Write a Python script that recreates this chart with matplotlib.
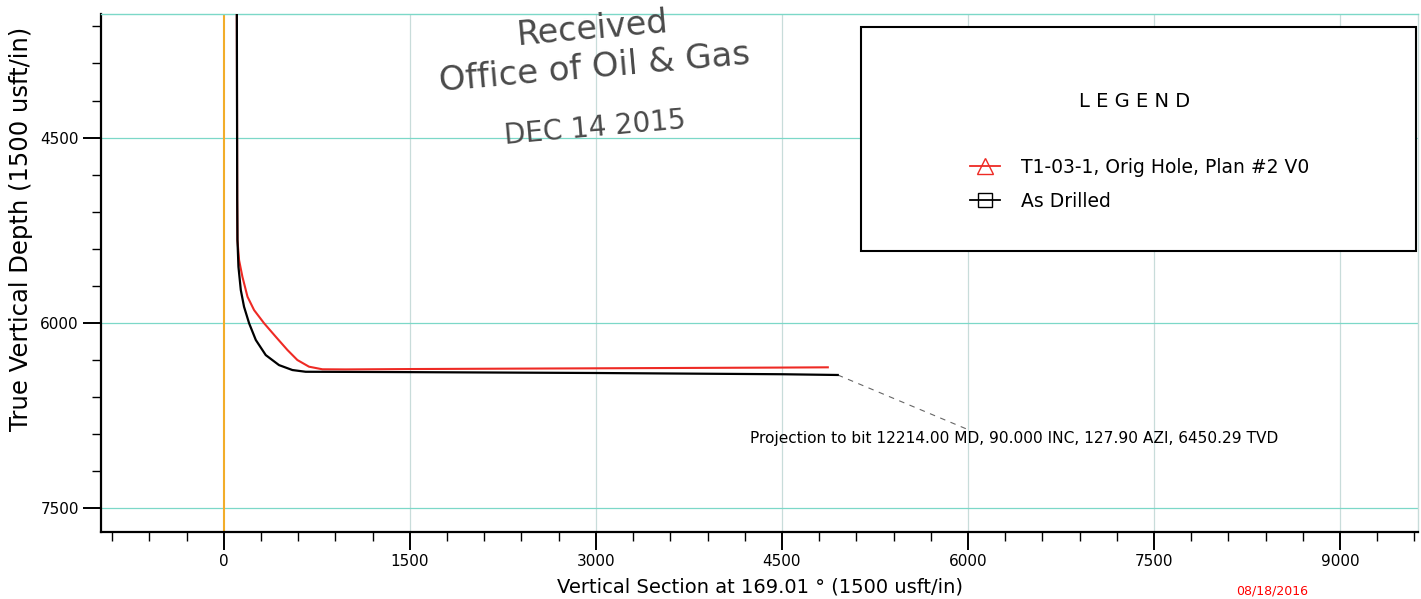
import matplotlib
matplotlib.use("Agg")
import matplotlib.pyplot as plt
from matplotlib.patches import Rectangle
from matplotlib.lines import Line2D
from matplotlib.ticker import MultipleLocator

# plan well (red)
plan_vs = [105, 108, 110, 123, 150, 191, 244, 325, 419, 513, 593, 687, 795, 982,
           1500, 3000, 4500, 4870]
plan_tvd = [3500, 5000, 5330, 5491, 5626, 5787, 5895, 6002, 6111, 6218, 6299, 6353,
            6374, 6375, 6372, 6366, 6360, 6358]

# as drilled (black)
drill_vs = [105, 108, 110, 118, 137, 163, 204, 258, 338, 445, 553, 660, 982,
            1500, 3000, 4500, 4950]
drill_tvd = [3500, 5000, 5329, 5545, 5733, 5868, 6002, 6137, 6259, 6340, 6380, 6394,
             6395, 6397, 6404, 6414, 6420]

# projection to bit
proj_vs = [4950, 6020]
proj_tvd = [6420, 6870]
proj_text = "Projection to bit 12214.00 MD, 90.000 INC, 127.90 AZI, 6450.29 TVD"

x_major = [0, 1500, 3000, 4500, 6000, 7500, 9000]
y_major = [4500, 6000, 7500]

fig = plt.figure(figsize=(14.21, 5.99), dpi=100)
ax = fig.add_axes([0.0711, 0.1119, 0.9269, 0.8647])

ax.set_xlim(-990, 9630)
ax.set_ylim(7690, 3500)

ax.set_xticks(x_major)
ax.set_yticks(y_major)
ax.xaxis.set_minor_locator(MultipleLocator(300))
ax.yaxis.set_minor_locator(MultipleLocator(300))
ax.tick_params(which="major", length=13, width=1.4, labelsize=11, pad=3)
ax.tick_params(which="minor", length=6.5, width=1.0)

for v in x_major[1:]:
    ax.axvline(v, color="#c8dcda", lw=0.9, zorder=0)
for v in y_major:
    ax.axhline(v, color="#7cd8c8", lw=0.9, zorder=0)

ax.spines["left"].set_linewidth(1.6)
ax.spines["bottom"].set_linewidth(1.6)
ax.spines["top"].set_color("#7cd8c8")
ax.spines["top"].set_linewidth(1.0)
ax.spines["right"].set_color("#c8dcda")
ax.spines["right"].set_linewidth(1.0)

ax.axvline(0, color="#f2ad2a", lw=1.5, zorder=1)

ax.plot(plan_vs, plan_tvd, color="#ee2a24", lw=1.5, zorder=3)
ax.plot(drill_vs, drill_tvd, color="black", lw=1.6, zorder=4)
ax.plot(proj_vs, proj_tvd, color="#666666", lw=0.8, ls=(0, (5, 5)), zorder=2)
ax.text(4243, 6930, proj_text, fontsize=11.1, va="center", ha="left")

ax.set_xlabel("Vertical Section at 169.01 ° (1500 usft/in)", fontsize=14, labelpad=6)
ax.set_ylabel("True Vertical Depth (1500 usft/in)", fontsize=17.5)
ax.yaxis.set_label_coords(-0.052, 0.585)

# legend box
ax.add_patch(Rectangle((0.577, 0.5425), 0.4215, 0.4325, transform=ax.transAxes,
                       facecolor="white", edgecolor="black", lw=1.5, zorder=5))
ax.text(0.785, 0.832, "L E G E N D", transform=ax.transAxes, fontsize=14,
        ha="center", va="center", zorder=6)
handles = [
    Line2D([], [], color="#ee2a24", lw=1.3, marker="^", markersize=11,
           markerfacecolor="none", markeredgecolor="#ee2a24"),
    Line2D([], [], color="black", lw=1.3, marker="s", markersize=10,
           markerfacecolor="none", markeredgecolor="black"),
]
leg = ax.legend(handles, ["T1-03-1, Orig Hole, Plan #2 V0", "As Drilled"],
                loc="upper left", bbox_to_anchor=(0.66, 0.722), frameon=False,
                fontsize=13.5, handlelength=1.6, handletextpad=1.1,
                labelspacing=0.8, borderpad=0, borderaxespad=0)
leg.set_zorder(7)

# received stamp
stamp = "#4a4a4a"
ax.text(0.373, 0.972, "Received", transform=ax.transAxes, fontsize=24,
        color=stamp, rotation=5, ha="center", va="center", zorder=6)
ax.text(0.375, 0.896, "Office of Oil & Gas", transform=ax.transAxes, fontsize=24.5,
        color=stamp, rotation=5, ha="center", va="center", zorder=6)
ax.text(0.375, 0.780, "DEC 14 2015", transform=ax.transAxes, fontsize=20,
        color=stamp, rotation=5, ha="center", va="center", zorder=6)

fig.text(0.87, 0.002, "08/18/2016", color="red", fontsize=9, ha="left", va="bottom")

fig.savefig("out.png", dpi=100)
